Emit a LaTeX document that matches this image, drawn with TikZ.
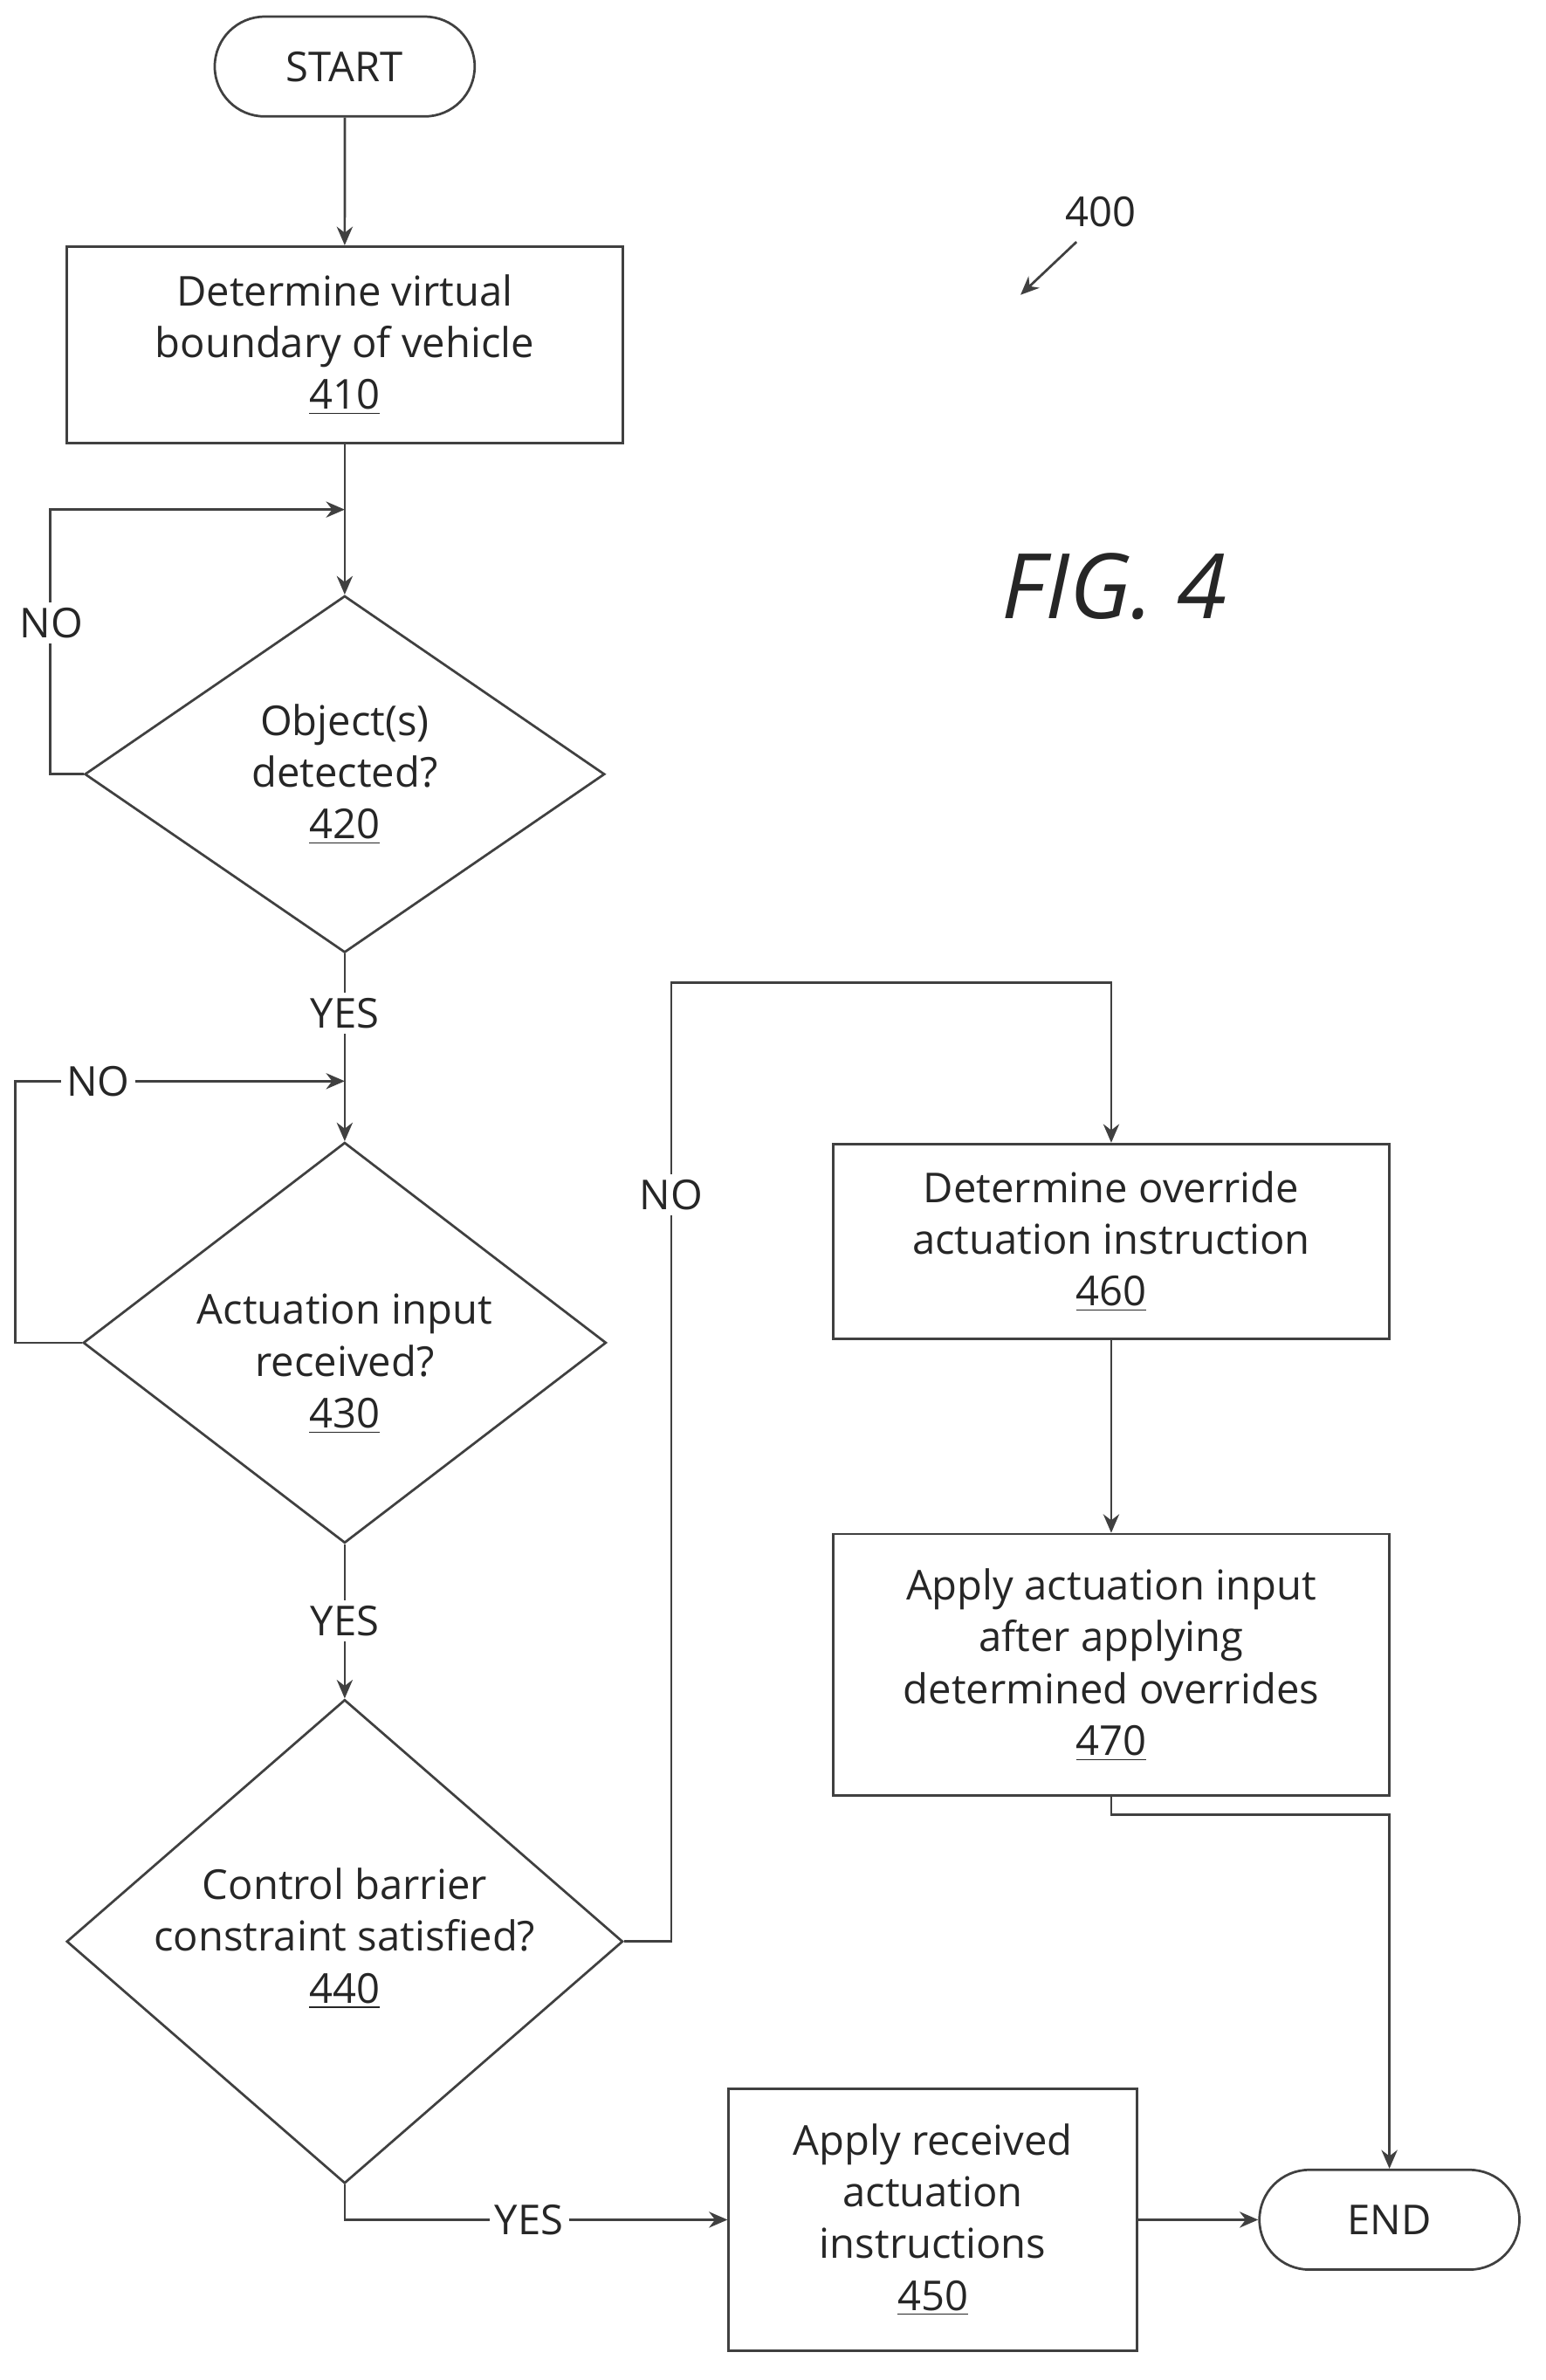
\documentclass[tikz,border=0pt]{standalone}
\usepackage{fontspec}
\setmainfont{Open Sans}
\usetikzlibrary{shapes.geometric,shapes.misc,arrows.meta}
\begin{document}
\begin{tikzpicture}[x=0.02cm,y=-0.02cm,
  every node/.style={font=\fontsize{15.5}{19.5}\selectfont, text=black!85},
  line/.style={draw=black!75, line width=0.9pt},
  arr/.style={line, -{Stealth[length=7pt,width=6pt]}},
  box/.style={draw=black!75, line width=0.9pt, rectangle, align=center, inner sep=0},
  term/.style={draw=black!75, line width=0.9pt, rounded rectangle, minimum width=3.44cm, minimum height=1.32cm, inner sep=0},
  dia/.style={draw=black!75, line width=0.9pt, diamond, inner sep=0},
  lbl/.style={fill=white, inner sep=2pt}]
\useasboundingbox (0,0) rectangle (1022,1574);
\node[term] (start) at (228,44) {START};
\node[box, minimum width=7.36cm, minimum height=2.6cm] (b410) at (228,228) {Determine virtual\\boundary of vehicle\\\underline{410}};
\node[dia, minimum width=6.88cm, minimum height=4.72cm] (d420) at (228,512) {};
\node[align=center] (t420) at (228,512) {Object(s)\\detected?\\\underline{420}};
\node[dia, minimum width=6.92cm, minimum height=5.3cm] (d430) at (228,888) {};
\node[align=center] (t430) at (228,902) {Actuation input\\received?\\\underline{430}};
\node[dia, minimum width=7.36cm, minimum height=6.4cm] (d440) at (228,1284) {};
\node[align=center] (t440) at (228,1282) {Control barrier\\constraint satisfied?\\\underline{440}};
\node[box, minimum width=7.36cm, minimum height=2.58cm] (b460) at (735,821) {Determine override\\actuation instruction\\\underline{460}};
\node[box, minimum width=7.36cm, minimum height=3.46cm] (b470) at (735,1101) {Apply actuation input\\after applying\\determined overrides\\\underline{470}};
\node[box, minimum width=5.4cm, minimum height=3.46cm] (b450) at (617,1468) {Apply received\\actuation\\instructions\\\underline{450}};
\node[term] (end) at (919,1468) {END};
\node (n400) at (728,140) {400};
\coordinate (a400s) at (712,160);
\coordinate (a400e) at (675,195);
\draw[arr] (a400s) -- (a400e);
\node[font=\fontsize{34}{40}\selectfont\itshape] (fig) at (737,388) {FIG. 4};

\draw[arr] (start) -- (b410);
\draw[arr] (b410) -- (d420);
\draw[arr] (d420.west) -- ++(-22,0) |- (228,337);
\node[lbl] (no1) at (34,412) {NO};
\draw[arr] (d420) -- (d430);
\node[lbl] (yes1) at (228,670) {YES};
\draw[arr] (d430.west) -- ++(-44,0) |- (228,715);
\node[lbl] (no2) at (65,715) {NO};
\draw[arr] (d430) -- (d440);
\node[lbl] (yes2) at (228,1072) {YES};
\draw[arr] (d440.east) -- (444,1284) -- (444,650) -| (b460.north);
\node[lbl] (no3) at (444,790) {NO};
\draw[arr] (b460) -- (b470);
\draw[arr] (b470.south) -- (735,1200) -| (end.north);
\draw[arr] (d440.south) |- (b450.west);
\node[lbl] (yes3) at (350,1468) {YES};
\draw[arr] (b450) -- (end);
\end{tikzpicture}
\end{document}
